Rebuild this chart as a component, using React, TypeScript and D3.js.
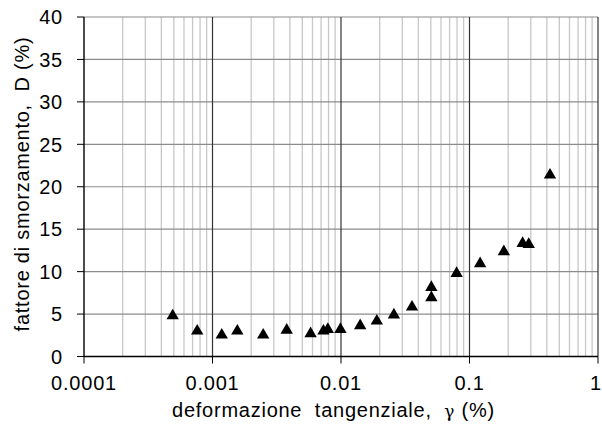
import React from "react";
import * as d3 from "d3";

const strainValues = [0.00049, 0.00076, 0.00118, 0.00156, 0.00248, 0.00378, 0.0058, 0.0073, 0.0079, 0.0099, 0.0141, 0.019, 0.0258, 0.0357, 0.0505, 0.0505, 0.0794, 0.121, 0.185, 0.259, 0.289, 0.423];
const dampingValues = [5.0, 3.2, 2.73, 3.2, 2.73, 3.3, 2.9, 3.2, 3.4, 3.4, 3.83, 4.38, 5.09, 6.03, 7.13, 8.34, 9.99, 11.13, 12.55, 13.53, 13.4, 21.58];
const xTickValues = [0.0001, 0.001, 0.01, 0.1, 1];
const xTickLabels = ["0.0001", "0.001", "0.01", "0.1", "1"];
const yTickValues = [0, 5, 10, 15, 20, 25, 30, 35, 40];

const W = 602, H = 441;
const left = 84, right = 598, top = 17, bottom = 356.5;
const font = "'Liberation Sans', Arial, sans-serif";

export default function App() {
  const x = d3.scaleLog().domain([0.0001, 1]).range([left, right]);
  const y = d3.scaleLinear().domain([0, 40]).range([bottom, top]);
  const minor: number[] = [];
  for (let e = -4; e < 0; e++) {
    for (let m = 2; m <= 9; m++) minor.push(m * Math.pow(10, e));
  }
  const tri = d3.symbol().type(d3.symbolTriangle).size(66)();
  return (
    <svg width={W} height={H} style={{ position: "absolute", left: 0, top: 0, background: "#fff" }}>
      <rect x={0} y={0} width={W} height={H} fill="#fff" />
      {minor.map((v, i) => (
        <line key={"mn" + i} x1={x(v)} x2={x(v)} y1={top} y2={bottom} stroke="#c8c8c8" strokeWidth={1.3} />
      ))}
      {yTickValues.map((v) => (
        <line key={"hg" + v} x1={left} x2={right} y1={y(v)} y2={y(v)} stroke="#8c8c8c" strokeWidth={1.2} />
      ))}
      {xTickValues.slice(1).map((v) => (
        <line key={"mj" + v} x1={x(v)} x2={x(v)} y1={top} y2={bottom} stroke="#333" strokeWidth={1.2} />
      ))}
      <line x1={left} x2={left} y1={top} y2={bottom} stroke="#000" strokeWidth={1.4} />
      <line x1={left} x2={right} y1={bottom} y2={bottom} stroke="#000" strokeWidth={1.4} />
      {yTickValues.map((v) => (
        <g key={"yt" + v}>
          <line x1={left - 7} x2={left} y1={y(v)} y2={y(v)} stroke="#000" strokeWidth={1} />
          <text x={63} y={y(v)} dy="0.36em" textAnchor="end" fontFamily={font} fontSize={20} letterSpacing={0.8} fill="#000">{v}</text>
        </g>
      ))}
      {xTickValues.map((v, i) => {
        const last = i === xTickValues.length - 1;
        return (
          <g key={"xt" + v}>
            <line x1={x(v)} x2={x(v)} y1={bottom} y2={bottom + 7} stroke="#000" strokeWidth={1} />
            <text x={last ? W - 1 : x(v)} y={bottom + 33.5} textAnchor={last ? "end" : "middle"} fontFamily={font} fontSize={20} letterSpacing={last ? 0 : 0.8} fill="#000">{xTickLabels[i]}</text>
          </g>
        );
      })}
      {strainValues.map((v, i) => (
        <path key={"p" + i} d={tri as string} transform={`translate(${x(v)},${y(dampingValues[i]) + 1.7})`} fill="#000" />
      ))}
      <text x={333.5} y={417} textAnchor="middle" fontFamily={font} fontSize={20} letterSpacing={0.75} fill="#000" style={{ whiteSpace: "pre" }}>
        {"deformazione  tangenziale,  "}<tspan fontFamily="'DejaVu Serif', serif" fontSize={17}>γ</tspan>{" (%)"}
      </text>
      <text transform={`translate(29,184) rotate(-90)`} textAnchor="middle" fontFamily={font} fontSize={20} letterSpacing={0.75} fill="#000" style={{ whiteSpace: "pre" }}>
        {"fattore di smorzamento,  D (%)"}
      </text>
    </svg>
  );
}
